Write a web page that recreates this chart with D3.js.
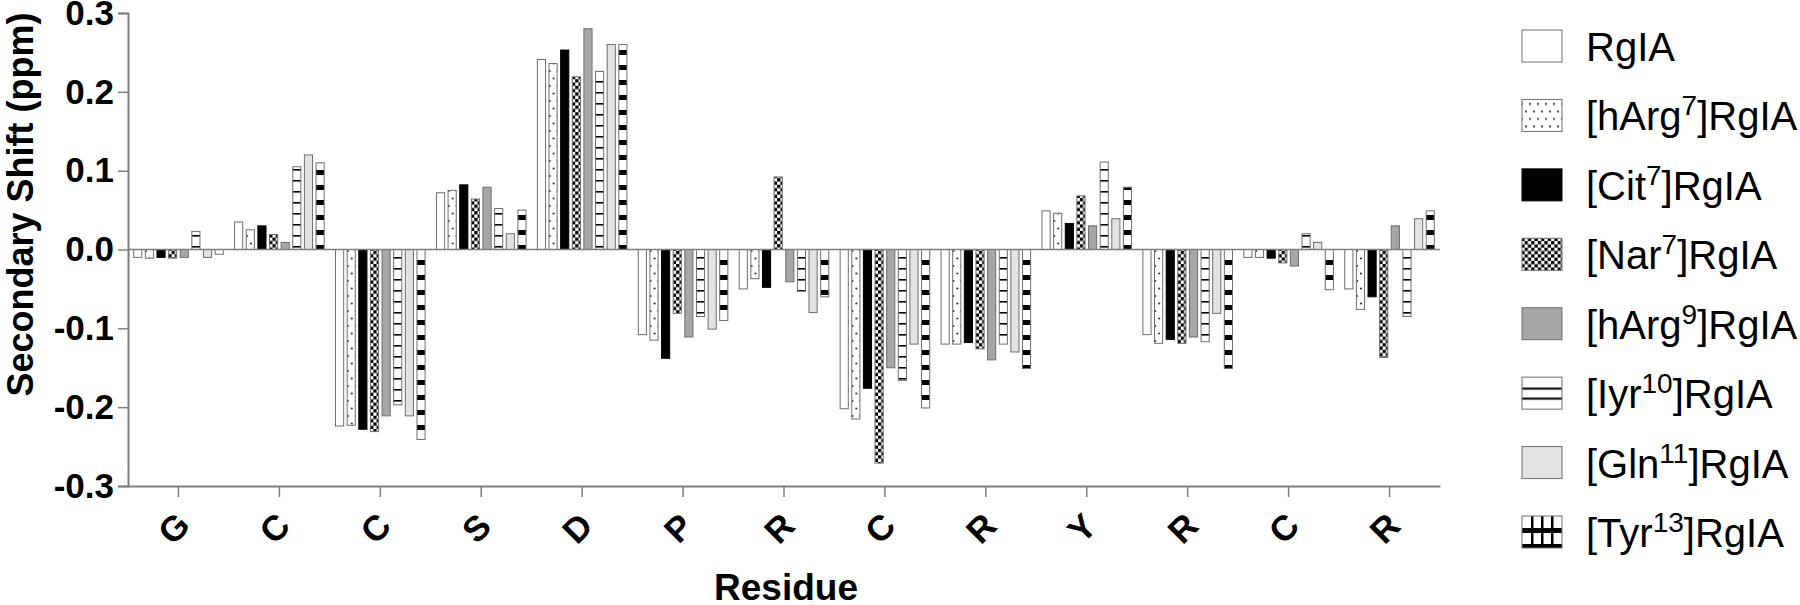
<!DOCTYPE html>
<meta charset="utf-8">
<title>Secondary shift of RgIA analogues</title>
<style>
body { margin: 0; background: #fff; }
text { font-family: Arial, "Liberation Sans", sans-serif; fill: #000; }
.axis path, .axis line { stroke: #7f7f7f; }
.bar { stroke: #6e6e6e; stroke-width: 1px; }
</style>
<body>
<script src="https://d3js.org/d3.v7.min.js"></script>
<script>

// residues along the sequence
var residues = ["G", "C", "C", "S", "D", "P", "R", "C", "R", "Y", "R", "C", "R"];

// secondary shifts (ppm), one array per peptide
var rgia   = [-0.010, 0.035, -0.224, 0.072, 0.241, -0.108, -0.050, -0.202, -0.120, 0.049, -0.108, -0.010, -0.050];
var harg7  = [-0.011, 0.025, -0.223, 0.075, 0.236, -0.115, -0.037, -0.215, -0.120, 0.046, -0.119, -0.010, -0.076];
var cit7   = [-0.010, 0.030, -0.228, 0.082, 0.253, -0.138, -0.048, -0.176, -0.118, 0.033, -0.114, -0.011, -0.060];
var nar7   = [-0.011, 0.019, -0.231, 0.064, 0.219, -0.081, 0.092, -0.271, -0.126, 0.068, -0.119, -0.017, -0.137];
var harg9  = [-0.010, 0.009, -0.211, 0.079, 0.280, -0.111, -0.041, -0.150, -0.140, 0.030, -0.111, -0.021, 0.030];
var iyr10  = [0.023, 0.105, -0.197, 0.052, 0.226, -0.085, -0.053, -0.166, -0.120, 0.111, -0.117, 0.020, -0.085];
var gln11  = [-0.010, 0.120, -0.211, 0.020, 0.260, -0.101, -0.080, -0.120, -0.130, 0.039, -0.081, 0.009, 0.039];
var tyr13  = [-0.006, 0.110, -0.241, 0.050, 0.260, -0.090, -0.060, -0.201, -0.151, 0.079, -0.151, -0.051, 0.049];

var seriesKeys = ["rgia", "harg7", "cit7", "nar7", "harg9", "iyr10", "gln11", "tyr13"];
var seriesValues = [rgia, harg7, cit7, nar7, harg9, iyr10, gln11, tyr13];
// legend labels split as [before, superscript, after]
var legendLabels = [
  ["RgIA", "", ""],
  ["[hArg", "7", "]RgIA"],
  ["[Cit", "7", "]RgIA"],
  ["[Nar", "7", "]RgIA"],
  ["[hArg", "9", "]RgIA"],
  ["[Iyr", "10", "]RgIA"],
  ["[Gln", "11", "]RgIA"],
  ["[Tyr", "13", "]RgIA"]
];
var yTicks = [-0.3, -0.2, -0.1, 0.0, 0.1, 0.2, 0.3];

var width = 1800, height = 605;
var plotLeft = 128, plotRight = 1440, plotTop = 13, plotBottom = 486;

var svg = d3.select("body").append("svg")
    .attr("width", width)
    .attr("height", height);

// fill patterns
var defs = svg.append("defs");

var p = defs.append("pattern").attr("id", "p-harg7").attr("patternUnits", "userSpaceOnUse")
    .attr("width", 8).attr("height", 15);
p.append("rect").attr("width", 8).attr("height", 15).attr("fill", "#fff");
p.append("circle").attr("cx", 2).attr("cy", 3.5).attr("r", 0.9).attr("fill", "#000");
p.append("circle").attr("cx", 6).attr("cy", 11).attr("r", 0.9).attr("fill", "#000");

p = defs.append("pattern").attr("id", "p-nar7").attr("patternUnits", "userSpaceOnUse")
    .attr("width", 6.6).attr("height", 6.6);
p.append("rect").attr("width", 6.6).attr("height", 6.6).attr("fill", "#fff");
p.append("rect").attr("width", 3.3).attr("height", 3.3).attr("fill", "#000");
p.append("rect").attr("x", 3.3).attr("y", 3.3).attr("width", 3.3).attr("height", 3.3).attr("fill", "#000");

p = defs.append("pattern").attr("id", "p-iyr10").attr("patternUnits", "userSpaceOnUse")
    .attr("width", 10).attr("height", 11);
p.append("rect").attr("width", 10).attr("height", 11).attr("fill", "#fff");
p.append("rect").attr("y", 4).attr("width", 10).attr("height", 1.6).attr("fill", "#000");

p = defs.append("pattern").attr("id", "p-iyr10-leg").attr("patternUnits", "objectBoundingBox")
    .attr("width", 1).attr("height", 1);
p.append("rect").attr("width", 40).attr("height", 32).attr("fill", "#fff");
p.append("rect").attr("y", 10.5).attr("width", 40).attr("height", 2).attr("fill", "#000");
p.append("rect").attr("y", 20.5).attr("width", 40).attr("height", 2).attr("fill", "#000");

p = defs.append("pattern").attr("id", "p-tyr13").attr("patternUnits", "userSpaceOnUse")
    .attr("width", 10).attr("height", 15);
p.append("rect").attr("width", 10).attr("height", 15).attr("fill", "#fff");
p.append("rect").attr("y", 5).attr("width", 10).attr("height", 5).attr("fill", "#000");

p = defs.append("pattern").attr("id", "p-tyr13-leg").attr("patternUnits", "objectBoundingBox")
    .attr("width", 1).attr("height", 1);
p.append("rect").attr("width", 40).attr("height", 32).attr("fill", "#fff");
p.append("rect").attr("y", 12).attr("width", 40).attr("height", 5).attr("fill", "#000");
p.append("rect").attr("y", 28).attr("width", 40).attr("height", 4).attr("fill", "#000");
[9, 19, 29].forEach(function(vx) {
  p.append("rect").attr("x", vx).attr("width", 2.5).attr("height", 32).attr("fill", "#000");
});

var fills = {
  rgia: "#fff", harg7: "url(#p-harg7)", cit7: "#000", nar7: "url(#p-nar7)",
  harg9: "#a6a6a6", iyr10: "url(#p-iyr10)", gln11: "#e3e3e3", tyr13: "url(#p-tyr13)"
};
var legendFills = Object.assign({}, fills, {iyr10: "url(#p-iyr10-leg)", tyr13: "url(#p-tyr13-leg)"});

// scales
var x0 = d3.scaleBand()
    .domain(d3.range(residues.length))
    .range([plotLeft, plotRight])
    .paddingInner(0.078)
    .paddingOuter(0.039);

var x1 = d3.scaleBand()
    .domain(seriesKeys)
    .range([0, x0.bandwidth()])
    .paddingInner(0.3)
    .paddingOuter(0.15);

var y = d3.scaleLinear()
    .domain([-0.3, 0.3])
    .range([plotBottom, plotTop]);

// bars
var groups = svg.append("g").selectAll("g")
  .data(residues)
  .enter().append("g")
    .attr("transform", function(d, i) { return "translate(" + x0(i) + ",0)"; });

groups.selectAll("rect")
  .data(function(d, i) {
    return seriesKeys.map(function(k, j) { return {key: k, value: seriesValues[j][i]}; });
  })
  .enter().append("rect")
    .attr("class", "bar")
    .attr("x", function(d) { return x1(d.key); })
    .attr("width", x1.bandwidth())
    .attr("y", function(d) { return y(Math.max(0, d.value)); })
    .attr("height", function(d) { return Math.abs(y(d.value) - y(0)); })
    .attr("fill", function(d) { return fills[d.key]; })
    .style("stroke", function(d) { return d.key == "cit7" ? "#000" : null; });

// zero line
svg.append("line")
    .attr("x1", plotLeft).attr("x2", plotRight)
    .attr("y1", y(0)).attr("y2", y(0))
    .attr("stroke", "#7f7f7f").attr("stroke-width", 1.5);

// y axis
var yAxis = svg.append("g")
    .attr("class", "axis")
    .attr("transform", "translate(" + plotLeft + ",0)")
    .call(d3.axisLeft(y).tickValues(yTicks).tickSize(10).tickPadding(4)
      .tickFormat(function(d) { return d.toFixed(1); }));
yAxis.select(".domain").attr("stroke-width", 2);
yAxis.selectAll(".tick line").attr("stroke-width", 1.5);
yAxis.selectAll("text")
    .style("font-size", "35px").style("font-weight", "bold")
    .style("font-family", "Arial, 'Liberation Sans', sans-serif")
    .attr("fill", "#000");

// x axis
var xAxis = svg.append("g")
    .attr("class", "axis")
    .attr("transform", "translate(0," + plotBottom + ")")
    .call(d3.axisBottom(x0).tickSize(11).tickSizeOuter(0).tickFormat(""));
xAxis.select(".domain").attr("stroke-width", 2);
xAxis.selectAll(".tick line").attr("stroke", "#333").attr("stroke-width", 1.5);

svg.append("g").selectAll("text")
  .data(residues)
  .enter().append("text")
    .attr("transform", function(d, i) {
      return "translate(" + (x0(i) + x0.bandwidth() / 2 - 5) + ",528) rotate(-45)";
    })
    .attr("text-anchor", "middle")
    .attr("dominant-baseline", "central")
    .style("font-size", "35px")
    .style("font-weight", "bold")
    .text(function(d) { return d; });

// axis titles
svg.append("text")
    .attr("transform", "translate(33," + ((plotTop + plotBottom) / 2 - 45) + ") rotate(-90)")
    .attr("text-anchor", "middle")
    .style("font-size", "36px")
    .style("font-weight", "bold")
    .text("Secondary Shift (ppm)");

svg.append("text")
    .attr("x", 786)
    .attr("y", 600)
    .attr("text-anchor", "middle")
    .style("font-size", "37px")
    .style("font-weight", "bold")
    .text("Residue");

// legend
var ly = d3.scaleLinear().domain([0, seriesKeys.length - 1]).range([46, 532]);

var legend = svg.append("g").selectAll("g")
  .data(seriesKeys)
  .enter().append("g")
    .attr("transform", function(d, i) { return "translate(0," + ly(i) + ")"; });

legend.append("rect")
    .attr("class", "bar")
    .attr("x", 1522)
    .attr("y", -16)
    .attr("width", 40)
    .attr("height", 32)
    .attr("fill", function(d) { return legendFills[d]; })
    .style("stroke", function(d) { return d == "cit7" ? "#000" : null; });

var ltext = legend.append("text")
    .attr("x", 1586)
    .attr("y", 15)
    .style("font-size", "40px");

ltext.append("tspan").text(function(d, i) { return legendLabels[i][0]; });
ltext.append("tspan")
    .attr("dy", -15)
    .style("font-size", "28px")
    .text(function(d, i) { return legendLabels[i][1]; });
ltext.append("tspan")
    .attr("dy", function(d, i) { return legendLabels[i][1] ? 15 : 0; })
    .text(function(d, i) { return legendLabels[i][2]; });

</script>
</body>
</html>
